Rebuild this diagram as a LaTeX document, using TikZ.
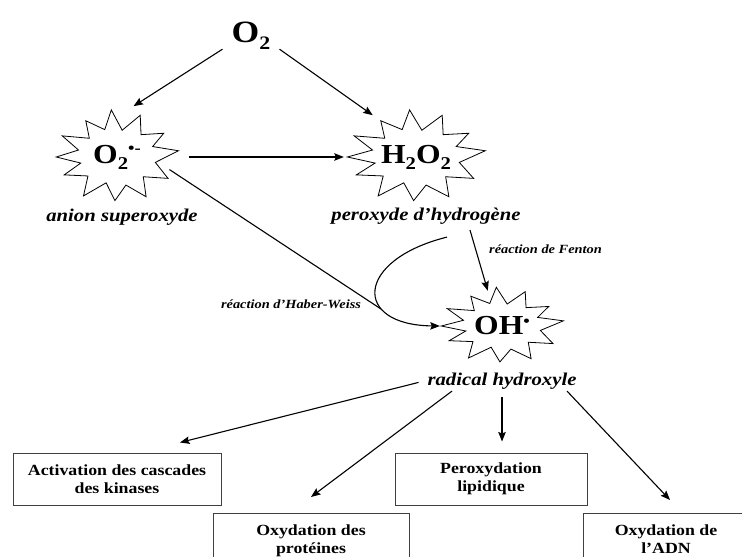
\documentclass[tikz,border=0pt]{standalone}
\usepackage{fontspec}
\setmainfont{Liberation Serif}[FakeStretch=1.15]
\usetikzlibrary{shapes.geometric,arrows.meta,calc}

\newcommand\drawburst[3]{%
  \draw[burstline] ($(#1)+({#2*cos(8)},{#3*sin(8)})$)
  \foreach \a/\r in {22/.62,35/.92,52/.63,68/1.0,82/.6,95/1.05,108/.64,122/.95,137/.61,152/1.0,166/.64,180/.98,193/.6,205/.94,222/.63,238/1.02,253/.6,268/.97,283/.64,298/1.0,314/.61,330/.95,349/.63}
  { -- ($(#1)+({#2*\r*cos(\a)},{#3*\r*sin(\a)})$) } -- cycle;}
\newcommand\dnsub[1]{\raisebox{-6pt}{\fontsize{18}{18}\selectfont #1}}
\newcommand\upsup[2]{\raisebox{#1}{\fontsize{16}{16}\selectfont #2}}

\tikzset{
  burstline/.style={line width=0.8pt, line join=miter},
  arr/.style={line width=1.1pt, -{Stealth[length=9.5pt,width=7.5pt,inset=1.5pt]}},
  plainline/.style={line width=1.1pt},
  hub/.style={ellipse, inner sep=0pt, font=\fontsize{27.5}{28}\selectfont\bfseries},
  lbl/.style={font=\fontsize{18}{20}\selectfont\bfseries\itshape, inner sep=2pt},
  rxn/.style={font=\fontsize{12.5}{14}\selectfont\bfseries\itshape, inner sep=1pt},
  effectbox/.style={draw=black!75, line width=1pt, align=center, font=\fontsize{15.5}{18}\selectfont\bfseries},
}

\begin{document}
\begin{tikzpicture}[x=1pt,y=1pt]
\useasboundingbox (0,0) rectangle (742,-557);
\clip (0,0) rectangle (742,-557);

% top molecule
\node[font=\fontsize{31}{31}\selectfont\bfseries, inner xsep=9pt, inner ysep=0pt, anchor=base] (o2) at (251,-42) {O\raisebox{-7pt}{\fontsize{19}{19}\selectfont 2}};

% starburst species
\node[hub, minimum width=144pt, minimum height=104pt] (s1) at (117,-157) {O\dnsub{2}\upsup{10pt}{•-}};
\node[hub, minimum width=144pt, minimum height=104pt] (s2) at (416,-157) {H\dnsub{2}O\dnsub{2}};
\node[hub, minimum width=124pt, minimum height=72pt] (s3) at (502,-326) {OH\upsup{8pt}{•}};
\drawburst{s1}{62}{45}
\drawburst{s2}{70}{45}
\drawburst{s3}{62}{37}

% labels
\node[lbl, anchor=base] (s1lbl) at (122,-221) {anion superoxyde};
\node[lbl, anchor=base] (s2lbl) at (426,-220) {peroxyde d’hydrogène};
\node[lbl, anchor=base] (s3lbl) at (502,-385) {radical hydroxyle};
\node[rxn, anchor=base] (hw) at (291,-308) {réaction d’Haber-Weiss};
\node[rxn, anchor=base west] (fen) at (488,-253) {réaction de Fenton};

% effect boxes
\node[effectbox, minimum width=208pt, minimum height=52pt] (act) at (117,-479) {Activation des cascades\\des kinases};
\node[effectbox, minimum width=192pt, minimum height=52pt] (per) at (491,-479) {Peroxydation\\lipidique};
\node[effectbox, minimum width=196pt, anchor=north, inner ysep=11pt] (pro) at (311,-513) {Oxydation des\\protéines};
\node[effectbox, minimum width=166pt, anchor=north, inner ysep=11pt] (adn) at (666,-513) {Oxydation de\\l’ADN};

\coordinate (hwj) at (381,-309);

% connectors
\draw[arr] (o2.south west) -- (s1.72);
\draw[arr] (o2.south east) -- (s2.136);
\draw[arr] (s1.east) -- (s2.west);
\draw[plainline, shorten <=-16pt] (s1.-18) -- (hwj);
\draw[arr] ([xshift=21pt,yshift=-11pt]s2lbl.south) .. controls (355,-260) and (352,-325) .. (s3.180);
\draw[arr] ([xshift=44pt,yshift=-4pt]s2lbl.south) -- (s3.112);

\draw[arr, shorten <=7pt] (s3lbl.west) -- ([xshift=63pt,yshift=10pt]act.north);
\draw[arr] ([xshift=-50pt]s3lbl.south) -- ([yshift=16pt]pro.north);
\draw[arr] ([yshift=-6pt]s3lbl.south) -- ([yshift=11pt]s3lbl.south |- per.north);
\draw[arr] ([xshift=65pt]s3lbl.south) -- ([xshift=4pt,yshift=13pt]adn.north);
\end{tikzpicture}
\end{document}
